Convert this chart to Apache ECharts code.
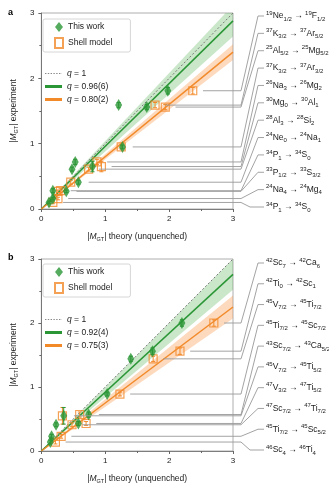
<!DOCTYPE html>
<html>
<head>
<meta charset="utf-8">
<script src="https://cdn.jsdelivr.net/npm/echarts@6/dist/echarts.min.js"></script>
<style>
  html, body { margin: 0; padding: 0; background: #fff; }
  #chart { width: 329px; height: 485px; }
</style>
</head>
<body>
<div id="chart"></div>
<script>
// 坐标轴刻度
const TICKS = [0, 1, 2, 3]

// ===== 面板 a =====
const aLabels = [
  '{u|19}Ne{d|1/2} → {u|19}F{d|1/2}',
  '{u|37}K{d|3/2} → {u|37}Ar{d|5/2}',
  '{u|25}Al{d|5/2} → {u|25}Mg{d|5/2}',
  '{u|37}K{d|3/2} → {u|37}Ar{d|3/2}',
  '{u|26}Na{d|3} → {u|26}Mg{d|2}',
  '{u|30}Mg{d|0} → {u|30}Al{d|1}',
  '{u|28}Al{d|3} → {u|28}Si{d|2}',
  '{u|24}Ne{d|0} → {u|24}Na{d|1}',
  '{u|34}P{d|1} → {u|34}S{d|0}',
  '{u|33}P{d|1/2} → {u|33}S{d|3/2}',
  '{u|24}Na{d|4} → {u|24}Mg{d|4}',
  '{u|34}P{d|1} → {u|34}S{d|0}',
]
const aExp = [1.81, 1.59, 1.56, 0.95, 0.72, 0.65, 0.61, 0.41, 0.28, 0.27, 0.16, 0.10]
const aThis = [1.98, 1.21, 1.65, 1.27, 0.53, 0.80, 0.48, 0.58, 0.18, 0.39, 0.18, 0.12]
const aShell = [2.37, 1.78, 1.94, 1.25, 0.87, 0.94, 0.74, 0.46, 0.30, 0.26, 0.26, 0.18]
const aErr = [0.05, 0.04, 0.04, 0.03, 0.04, 0.08, 0.03, 0.03, 0.03, 0.02, 0.02, 0.02]
const aQThis = 0.96, aBandThis = 0.08, aNameThis = 'q = 0.96(6)'
const aQShell = 0.80, aBandShell = 0.04, aNameShell = 'q = 0.80(2)'

// ===== 面板 b =====
const bLabels = [
  '{u|42}Sc{d|7} → {u|42}Ca{d|6}',
  '{u|42}Ti{d|0} → {u|42}Sc{d|1}',
  '{u|45}V{d|7/2} → {u|45}Ti{d|7/2}',
  '{u|45}Ti{d|7/2} → {u|45}Sc{d|7/2}',
  '{u|43}Sc{d|7/2} → {u|43}Ca{d|5/2}',
  '{u|45}V{d|7/2} → {u|45}Ti{d|5/2}',
  '{u|47}V{d|3/2} → {u|47}Ti{d|5/2}',
  '{u|47}Sc{d|7/2} → {u|47}Ti{d|7/2}',
  '{u|45}Ti{d|7/2} → {u|45}Sc{d|5/2}',
  '{u|46}Sc{d|4} → {u|46}Ti{d|4}',
]
const bExp = [2.00, 1.56, 1.44, 0.89, 0.57, 0.55, 0.43, 0.41, 0.23, 0.14]
const bThis = [2.20, 1.74, 1.40, 1.03, 0.74, 0.35, 0.58, 0.23, 0.16, 0.14]
const bShell = [2.70, 2.17, 1.75, 1.23, 0.60, 0.33, 0.70, 0.48, 0.31, 0.22]
const bErr = [0.05, 0.05, 0.04, 0.03, 0.04, 0.13, 0.03, 0.03, 0.03, 0.03]
const bQThis = 0.92, bBandThis = 0.08, bNameThis = 'q = 0.92(4)'
const bQShell = 0.75, bBandShell = 0.06, bNameShell = 'q = 0.75(3)'

const GREEN = '#2b9636'
const GREEN_BAND = 'rgba(80,175,80,0.3)'
const ORANGE = '#f28a2a'
const ORANGE_BAND = 'rgba(248,150,70,0.35)'
const FONT = 'Liberation Sans, Arial, sans-serif'
const XMAX = TICKS[TICKS.length - 1]

const chart = echarts.init(document.getElementById('chart'), null, { renderer: 'canvas' })

// 斜率带（从原点出发的锥形），超出上边界时截断
function bandSeries(gi, lo, hi, color) {
  return {
    type: 'custom', xAxisIndex: gi, yAxisIndex: gi, silent: true, z: 1,
    data: [[lo, hi]],
    encode: { x: [], y: [] },
    renderItem: (params, api) => {
      const l = api.value(0), h = api.value(1)
      const pts = [api.coord([0, 0])]
      if (h * XMAX > XMAX) {
        pts.push(api.coord([XMAX / h, XMAX]), api.coord([XMAX, XMAX]))
      } else {
        pts.push(api.coord([XMAX, XMAX * h]))
      }
      pts.push(api.coord([XMAX, XMAX * l]))
      return { type: 'polygon', shape: { points: pts }, style: { fill: color } }
    },
  }
}

function lineSeries(gi, name, q, style) {
  return {
    name, type: 'line', xAxisIndex: gi, yAxisIndex: gi, silent: true, z: 2,
    symbol: 'none', showSymbol: false,
    data: [[0, 0], [XMAX, XMAX * q]],
    lineStyle: style,
    itemStyle: { color: style.color },
  }
}

// 误差棒
function errSeries(gi, xs, ys, es, color) {
  return {
    type: 'custom', xAxisIndex: gi, yAxisIndex: gi, silent: true, z: 4,
    data: xs.map((x, i) => [x, ys[i], es[i]]),
    encode: { x: 0, y: 1 },
    renderItem: (params, api) => {
      const x = api.value(0), y = api.value(1), e = api.value(2)
      const t = api.coord([x, y + e]), b = api.coord([x, y - e])
      const st = { stroke: color, lineWidth: 1 }
      return {
        type: 'group', children: [
          { type: 'line', shape: { x1: t[0], y1: t[1], x2: b[0], y2: b[1] }, style: st },
          { type: 'line', shape: { x1: t[0] - 2, y1: t[1], x2: t[0] + 2, y2: t[1] }, style: st },
          { type: 'line', shape: { x1: b[0] - 2, y1: b[1], x2: b[0] + 2, y2: b[1] }, style: st },
        ],
      }
    },
  }
}

function panelSeries(gi, exp, thisX, shellX, err, qT, bT, nT, qS, bS, nS) {
  return [
    bandSeries(gi, qT - bT, qT + bT, GREEN_BAND),
    bandSeries(gi, qS - bS, qS + bS, ORANGE_BAND),
    lineSeries(gi, 'q = 1', 1, { color: '#777', width: 1, type: [2, 2] }),
    lineSeries(gi, nT, qT, { color: GREEN, width: 1.5 }),
    lineSeries(gi, nS, qS, { color: ORANGE, width: 1.5 }),
    {
      name: 'Shell model', type: 'scatter', xAxisIndex: gi, yAxisIndex: gi, z: 3,
      symbol: 'rect', symbolSize: 8,
      data: shellX.map((x, i) => [x, exp[i]]),
      itemStyle: { color: 'rgba(255,255,255,0)', borderColor: ORANGE, borderWidth: 1.2 },
    },
    errSeries(gi, shellX, exp, err, ORANGE),
    {
      name: 'This work', type: 'scatter', xAxisIndex: gi, yAxisIndex: gi, z: 5,
      symbol: 'diamond', symbolSize: [7, 12],
      data: thisX.map((x, i) => [x, exp[i]]),
      itemStyle: { color: GREEN },
    },
    errSeries(gi, thisX, exp, err, GREEN),
  ]
}

const axisName = (t) => '|{i|M}{s|GT}| ' + t
const nameStyle = {
  fontSize: 8.5, fontFamily: FONT, color: '#222', lineHeight: 11,
  rich: {
    i: { fontStyle: 'italic', fontSize: 8.5, fontFamily: FONT, color: '#222', lineHeight: 11 },
    s: { fontSize: 5.5, fontFamily: FONT, color: '#222', lineHeight: 6, verticalAlign: 'bottom' },
  },
}

function xAxis(gi) {
  return {
    type: 'value', gridIndex: gi, min: TICKS[0], max: XMAX, interval: 1,
    name: axisName('theory (unquenched)'), nameLocation: 'middle', nameGap: 22,
    nameTextStyle: nameStyle,
    axisLine: { lineStyle: { color: '#666', width: 0.8 } },
    axisTick: { show: true, length: 3, lineStyle: { color: '#666' } },
    minorTick: { show: true, splitNumber: 2, length: 2, lineStyle: { color: '#666' } },
    axisLabel: { fontSize: 8, fontFamily: FONT, color: '#222', margin: 6 },
    splitLine: { show: false },
  }
}

function yAxis(gi) {
  return {
    type: 'value', gridIndex: gi, min: TICKS[0], max: XMAX, interval: 1,
    name: axisName('experiment'), nameLocation: 'middle', nameGap: 20, nameRotate: 90,
    nameTextStyle: nameStyle,
    axisLine: { show: true, lineStyle: { color: '#666', width: 0.8 } },
    axisTick: { show: true, length: 3, lineStyle: { color: '#666' } },
    minorTick: { show: true, splitNumber: 2, length: 2, lineStyle: { color: '#666' } },
    axisLabel: { fontSize: 8, fontFamily: FONT, color: '#222', margin: 7 },
    splitLine: { show: false },
  }
}

const legendText = {
  fontSize: 8.5, fontFamily: FONT, color: '#222',
  rich: { i: { fontStyle: 'italic', fontSize: 8.5, fontFamily: FONT, color: '#222' } },
}
const qFormatter = (n) => (n.startsWith('q') ? '{i|q}' + n.slice(1) : n)

// 图例线条图标（保持比例的路径）
const DOTTED_ICON = 'path://M0,0h1.4v1h-1.4zM2.8,0h1.4v1h-1.4zM5.6,0h1.4v1h-1.4zM8.4,0h1.4v1h-1.4zM11.2,0h1.4v1h-1.4zM14,0h1.4v1h-1.4zM16.8,0h0.2v1h-0.2z'
const THICK_ICON = 'path://M0,0h17v3h-17z'

function boxLegend(left, top) {
  return {
    left, top, orient: 'vertical', selectedMode: false,
    data: ['This work', 'Shell model'],
    itemWidth: 8, itemHeight: 10, itemGap: 5, itemTextGap: 7,
    padding: [3, 18, 3, 11],
    borderColor: '#ccc', borderWidth: 0.8, borderRadius: 2,
    textStyle: legendText,
  }
}

function lineLegend(left, top, nT, nS) {
  return {
    left, top, orient: 'vertical', selectedMode: false,
    data: [
      { name: 'q = 1', icon: DOTTED_ICON, itemStyle: { color: '#888' } },
      { name: nT, icon: THICK_ICON, itemStyle: { color: GREEN } },
      { name: nS, icon: THICK_ICON, itemStyle: { color: ORANGE } },
    ],
    formatter: qFormatter,
    itemWidth: 17, itemHeight: 8, itemGap: 4, itemTextGap: 5,
    symbolKeepAspect: true,
    padding: 0,
    textStyle: legendText,
  }
}

const option = {
  animation: false,
  backgroundColor: '#fff',
  grid: [
    { left: 38, top: 13, width: 195, height: 196, show: true, borderColor: '#999', borderWidth: 0.8 },
    { left: 38, top: 259, width: 195, height: 196, show: true, borderColor: '#999', borderWidth: 0.8 },
  ],
  xAxis: [xAxis(0), xAxis(1)],
  yAxis: [yAxis(0), yAxis(1)],
  legend: [
    boxLegend(43, 19),
    lineLegend(45, 69, aNameThis, aNameShell),
    boxLegend(43, 264),
    lineLegend(45, 315, bNameThis, bNameShell),
  ],
  series: [
    ...panelSeries(0, aExp, aThis, aShell, aErr, aQThis, aBandThis, aNameThis, aQShell, aBandShell, aNameShell),
    ...panelSeries(1, bExp, bThis, bShell, bErr, bQThis, bBandThis, bNameThis, bQShell, bBandShell, bNameShell),
  ],
}

chart.setOption(option)

// 右侧跃迁标签与引线
const labelRich = {
  u: { fontSize: 6, fontFamily: FONT, fill: '#222', lineHeight: 6, verticalAlign: 'top' },
  d: { fontSize: 6, fontFamily: FONT, fill: '#222', lineHeight: 6, verticalAlign: 'bottom' },
}

function leaders(gi, labels, exp, thisX, shellX, yTop, yBottom) {
  const els = []
  const n = labels.length
  labels.forEach((lab, i) => {
    const ly = yTop + (yBottom - yTop) * i / (n - 1)
    const s = chart.convertToPixel({ gridIndex: gi }, [Math.max(thisX[i], shellX[i]) + 0.16, exp[i]])
    const endX = ly > s[1] ? 250 : 258
    els.push({
      type: 'polyline', silent: true, z: 10,
      shape: { points: [s, [241, s[1]], [endX, ly], [264, ly]] },
      style: { stroke: '#999', lineWidth: 0.9, fill: null },
    })
    els.push({
      type: 'text', silent: true, z: 10, x: 266, y: ly,
      style: {
        text: lab, rich: labelRich, fontSize: 8.5, fontFamily: FONT, fill: '#222',
        lineHeight: 12, verticalAlign: 'middle',
      },
    })
  })
  return els
}

chart.setOption({
  graphic: [
    { type: 'text', left: 8, top: 8, silent: true, style: { text: 'a', fontSize: 9, fontWeight: 'bold', fontFamily: FONT, fill: '#000' } },
    { type: 'text', left: 8, top: 253, silent: true, style: { text: 'b', fontSize: 9, fontWeight: 'bold', fontFamily: FONT, fill: '#000' } },
    ...leaders(0, aLabels, aExp, aThis, aShell, 16, 207),
    ...leaders(1, bLabels, bExp, bThis, bShell, 263, 450),
  ],
})
</script>
</body>
</html>
